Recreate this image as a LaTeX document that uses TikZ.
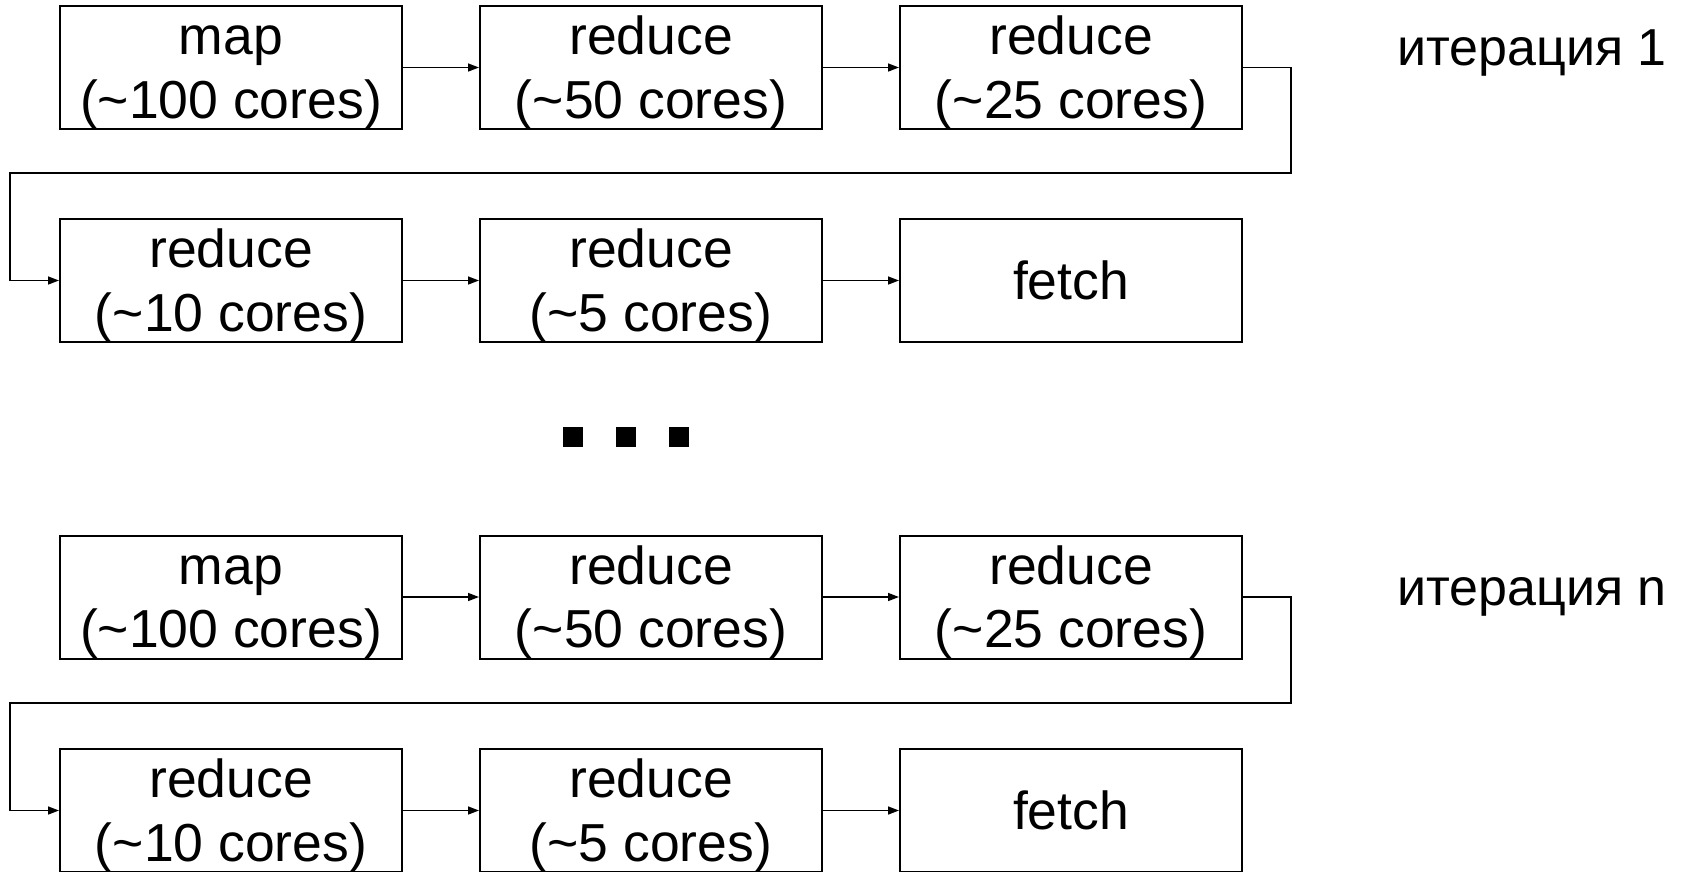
\documentclass[tikz,border=0pt]{standalone}
\usepackage{fontspec}
\setmainfont{Liberation Sans}
\usetikzlibrary{arrows.meta}

% two-line caption inside a stage box: #1 box name, #2 first line, #3 second line
\newcommand{\stagetext}[3]{%
  \node[txt] (#1-a) at ([yshift=13pt]#1.center) {#2};
  \node[txt] (#1-b) at ([yshift=-50.5pt]#1.center) {#3};
}

\begin{document}
\begin{tikzpicture}[x=1pt,y=-1pt,
  stage/.style={draw, line width=2pt, minimum width=342pt, minimum height=123pt, inner sep=0pt},
  txt/.style={font=\fontsize{53.5}{63}\selectfont, inner sep=0pt, anchor=base},
  conn/.style={line width=1.5pt, -{Triangle[length=11pt,width=8pt]}},
  dotsq/.style={fill=black, minimum size=20pt, inner sep=0pt},
  iter/.style={font=\fontsize{52}{63}\selectfont, inner sep=0pt, anchor=base west}]
\useasboundingbox (0,0) rectangle (1684,871);

% ---- iteration 1 ----
\node[stage] (s11) at (231,67.5) {};
\node[stage] (s12) at (651,67.5) {};
\node[stage] (s13) at (1071,67.5) {};
\node[stage] (s21) at (231,280.5) {};
\node[stage] (s22) at (651,280.5) {};
\node[stage] (s23) at (1071,280.5) {};

\stagetext{s11}{map}{(\textasciitilde100 cores)}
\stagetext{s12}{reduce}{(\textasciitilde50 cores)}
\stagetext{s13}{reduce}{(\textasciitilde25 cores)}
\stagetext{s21}{reduce}{(\textasciitilde10 cores)}
\stagetext{s22}{reduce}{(\textasciitilde5 cores)}
\node[txt] (s23-a) at ([yshift=-18.5pt]s23.center) {fetch};

\coordinate (r1) at (1291,173);
\coordinate (l1) at (10,173);
\draw[conn] (s11.east) -- (s12.west);
\draw[conn] (s12.east) -- (s13.west);
\draw[conn] (s13.east) -| (r1) -- (l1) |- (s21.west);
\draw[conn] (s21.east) -- (s22.west);
\draw[conn] (s22.east) -- (s23.west);

\node[iter] (it1) at (1397,65) {итерация 1};

% ---- ellipsis ----
\node[dotsq] (d1) at (573,437) {};
\node[dotsq] (d2) at (626,437) {};
\node[dotsq] (d3) at (679,437) {};

% ---- iteration n ----
\node[stage] (s31) at (231,597) {};
\node[stage] (s32) at (651,597) {};
\node[stage] (s33) at (1071,597) {};
\node[stage] (s41) at (231,810.5) {};
\node[stage] (s42) at (651,810.5) {};
\node[stage] (s43) at (1071,810.5) {};

\stagetext{s31}{map}{(\textasciitilde100 cores)}
\stagetext{s32}{reduce}{(\textasciitilde50 cores)}
\stagetext{s33}{reduce}{(\textasciitilde25 cores)}
\stagetext{s41}{reduce}{(\textasciitilde10 cores)}
\stagetext{s42}{reduce}{(\textasciitilde5 cores)}
\node[txt] (s43-a) at ([yshift=-18.5pt]s43.center) {fetch};

\coordinate (r2) at (1291,703);
\coordinate (l2) at (10,703);
\draw[conn] (s31.east) -- (s32.west);
\draw[conn] (s32.east) -- (s33.west);
\draw[conn] (s33.east) -| (r2) -- (l2) |- (s41.west);
\draw[conn] (s41.east) -- (s42.west);
\draw[conn] (s42.east) -- (s43.west);

\node[iter] (itn) at (1397,605) {итерация n};
\end{tikzpicture}
\end{document}
